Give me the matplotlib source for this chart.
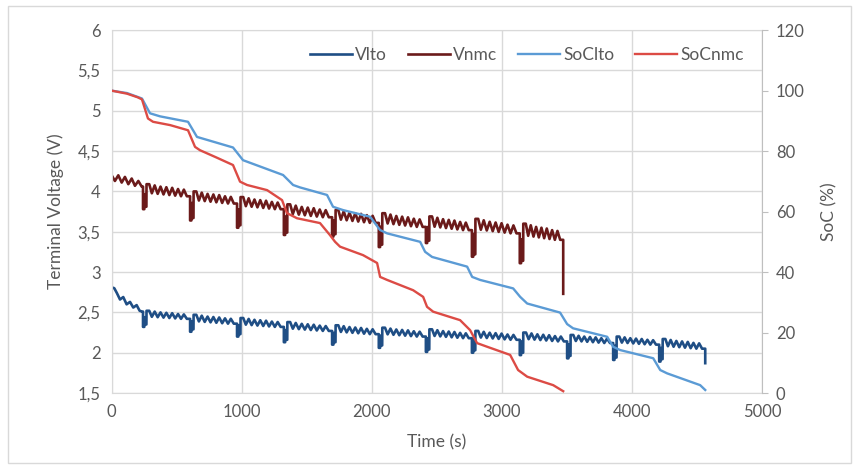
import matplotlib.pyplot as plt
from matplotlib.ticker import FuncFormatter, MultipleLocator
from matplotlib.patches import Rectangle

plt.rcParams['font.family'] = ['Lato', 'DejaVu Sans']

# ---- data ----
# times (s) of the current pulses that start each repeated drive cycle
dip_times = [241, 603, 964, 1324, 1695, 2054, 2416, 2770, 3138, 3502, 3856, 4210]
lto_end_time = 4564
nmc_end_time = 3472

# one drive cycle after the pulse: time offset (s) and position between the
# cycle's high (0) and low (1) voltage
cycle_offsets = [0, 20, 40, 62, 85, 107, 130, 152, 175, 197, 220, 242, 265, 287, 310, 330]
cycle_shape = [0, 0.0, 0.75, 0.1, 0.8, 0.2, 0.85, 0.25, 0.9, 0.3, 0.95, 0.4, 1.0, 0.45, 1.0, 1.0]

# first (partial) cycle, before the first pulse
vnmc_start_t = [0, 25, 51, 77, 102, 128, 154, 179, 205, 231]
vnmc_start_v = [4.20, 4.13, 4.20, 4.11, 4.18, 4.09, 4.16, 4.07, 4.13, 4.06]
vlto_start_t = [0, 20, 40, 64, 89, 115, 141, 166, 192, 215, 235]
vlto_start_v = [2.81, 2.80, 2.74, 2.66, 2.69, 2.60, 2.63, 2.56, 2.59, 2.52, 2.51]

# per cycle levels (V)
vnmc_hi = [4.09, 4.00, 3.93, 3.84, 3.77, 3.73, 3.69, 3.66, 3.60]
vnmc_lo = [3.94, 3.85, 3.78, 3.68, 3.61, 3.56, 3.52, 3.48, 3.40]
vnmc_dip = [3.78, 3.64, 3.55, 3.46, 3.44, 3.31, 3.36, 3.19, 3.11]
vnmc_end_v = 2.73

vlto_hi = [2.52, 2.47, 2.43, 2.38, 2.34, 2.31, 2.29, 2.27, 2.25, 2.22, 2.20, 2.17]
vlto_lo = [2.42, 2.36, 2.32, 2.27, 2.23, 2.20, 2.18, 2.16, 2.14, 2.12, 2.10, 2.05]
vlto_dip = [2.32, 2.26, 2.20, 2.13, 2.10, 2.06, 2.01, 2.00, 1.97, 1.93, 1.91, 1.89]
vlto_end_v = 1.87

soc_nmc_t = [0, 118, 200, 233, 279, 318, 450, 587, 641, 679, 800, 933, 987, 1041,
             1195, 1310, 1348, 1425, 1602, 1679, 1718, 1756, 1933, 2041, 2064, 2118,
             2318, 2395, 2425, 2472, 2679, 2756, 2810, 2887, 3064, 3125, 3195, 3395, 3472]
soc_nmc = [100, 99, 97.8, 97.1, 90.8, 89.7, 88.6, 86.9, 81.4, 80.3, 78, 75.4, 69.9, 68.8,
           67.1, 63.8, 59.5, 57.8, 56.2, 52.2, 50, 48.4, 45.6, 43, 38.4, 37.4,
           34, 31.8, 28.5, 26.9, 24.1, 20.8, 16.5, 15.3, 12.6, 7.6, 5.4, 2.6, 0.6]

soc_lto_t = [0, 118, 233, 295, 372, 587, 656, 933, 1010, 1318, 1395, 1448, 1656, 1702,
             1779, 1987, 2064, 2118, 2372, 2410, 2464, 2733, 2772, 2833, 3087, 3141, 3195,
             3448, 3502, 3548, 3810, 3856, 3910, 4164, 4218, 4271, 4525, 4564]
soc_lto = [100, 99.2, 97.4, 92.5, 91.5, 89.7, 84.7, 81.2, 77, 72.1, 68.8, 68, 65.5, 61.6,
           60.5, 58.3, 53.9, 52.8, 50, 46.7, 45, 41.8, 38.4, 37.4, 34.6, 31.8, 29.6,
           26.6, 22.8, 21.4, 18.6, 15.3, 14.2, 11.5, 7.6, 6.5, 2.6, 1.0]


def build_voltage(t0, v0, hi, lo, dip, end_t, end_v):
    """Chain the drive cycles: pulse, recovery, then the saw-tooth part."""
    t = list(t0)
    v = list(v0)
    for k in range(len(hi)):
        td = dip_times[k]
        tn = dip_times[k + 1] if k + 1 < len(hi) else end_t
        mid = dip[k] + 0.6 * (hi[k] - dip[k])
        t += [td, td, td + 10, td + 11, td + 16, td + 17, td + 26, td + 27]
        v += [v[-1], dip[k], dip[k], mid, mid, dip[k] + 0.03, dip[k] + 0.03, hi[k]]
        scale = (tn - td - 33) / cycle_offsets[-1]
        for off, f in zip(cycle_offsets, cycle_shape):
            t.append(td + 28 + off * scale)
            v.append(hi[k] - f * (hi[k] - lo[k]))
    t += [end_t, end_t]
    v += [v[-1], end_v]
    return t, v


vnmc_t, vnmc = build_voltage(vnmc_start_t, vnmc_start_v, vnmc_hi, vnmc_lo, vnmc_dip,
                             nmc_end_time, vnmc_end_v)
vlto_t, vlto = build_voltage(vlto_start_t, vlto_start_v, vlto_hi, vlto_lo, vlto_dip,
                             lto_end_time, vlto_end_v)

# ---- plot ----
text_color = '#595959'
grid_color = '#D9D9D9'

fig = plt.figure(figsize=(8.59, 4.70), dpi=100)
ax = fig.add_axes([0.130, 0.1638, 0.757, 0.772])
ax2 = ax.twinx()

l1, = ax.plot(vlto_t, vlto, color='#1F4E85', lw=1.9, label='Vlto')
l2, = ax.plot(vnmc_t, vnmc, color='#6B1A1A', lw=1.9, label='Vnmc')
l3, = ax2.plot(soc_lto_t, soc_lto, color='#5B9BD5', lw=1.7, label='SoClto')
l4, = ax2.plot(soc_nmc_t, soc_nmc, color='#DC4B45', lw=1.7, label='SoCnmc')

ax.set_xlim(0, 5000)
ax.set_ylim(1.5, 6)
ax2.set_ylim(0, 120)
ax.xaxis.set_major_locator(MultipleLocator(1000))
ax.yaxis.set_major_locator(MultipleLocator(0.5))
ax2.yaxis.set_major_locator(MultipleLocator(20))
ax.yaxis.set_major_formatter(FuncFormatter(lambda y, _: f'{y:g}'.replace('.', ',')))

ax.grid(True, color=grid_color, lw=1)
ax.set_axisbelow(True)
for sp in ['top', 'left', 'bottom']:
    ax.spines[sp].set_color(grid_color)
    ax2.spines[sp].set_visible(False)
ax.spines['right'].set_visible(False)
ax2.spines['right'].set_color('#BFBFBF')

ax.tick_params(axis='both', length=0, labelsize=12, colors=text_color, pad=8)
ax2.tick_params(axis='y', length=4, color='#BFBFBF', labelsize=12,
                labelcolor=text_color, pad=6)

ax.set_xlabel('Time (s)', fontsize=12.5, color=text_color, labelpad=10)
ax.set_ylabel('Terminal Voltage (V)', fontsize=12.5, color=text_color, labelpad=10)
ax2.set_ylabel('SoC (%)', fontsize=12.5, color=text_color, labelpad=12)

leg = ax.legend(handles=[l1, l2, l3, l4], loc='center', bbox_to_anchor=(0.639, 0.931),
                ncol=4, frameon=False, fontsize=12.5, handlelength=2.4,
                handletextpad=0.2, columnspacing=1.2)
for txt in leg.get_texts():
    txt.set_color(text_color)
leg.set_zorder(10)

fig.patches.append(Rectangle((0.009, 0.015), 0.982, 0.972, transform=fig.transFigure,
                             fill=False, ec=grid_color, lw=1))

fig.savefig('out.png', dpi=100)
